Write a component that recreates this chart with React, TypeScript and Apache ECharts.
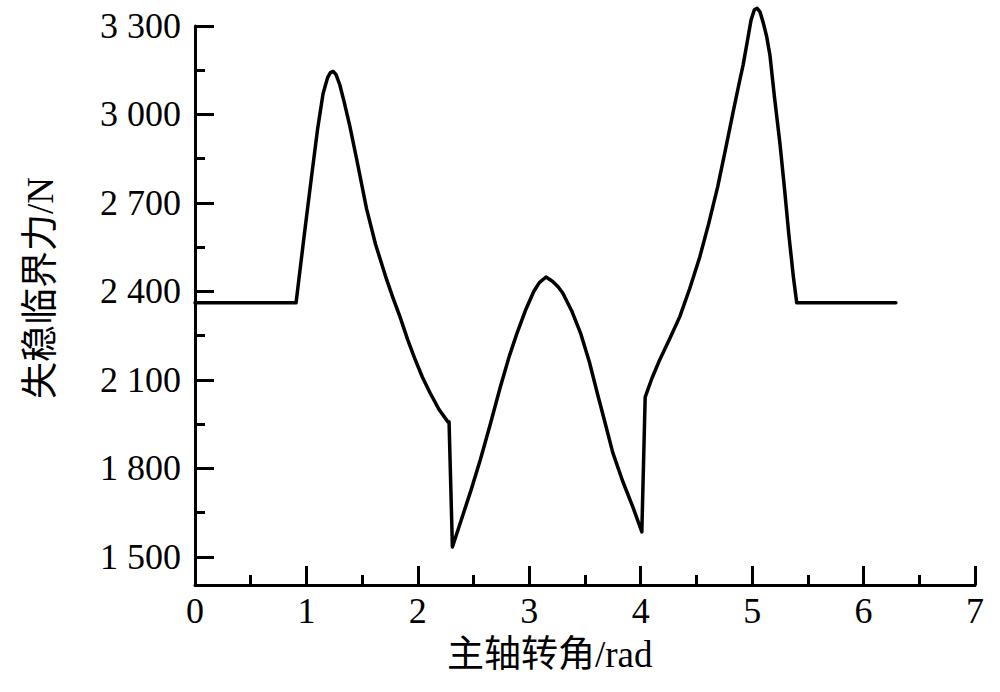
import React, { useEffect, useRef } from "react";
import * as echarts from "echarts";

const angleRad: number[] = [
  0, 0.907, 0.98, 1.05, 1.1, 1.149, 1.19, 1.215, 1.24, 1.265, 1.3, 1.34, 1.39, 1.45,
  1.54, 1.62, 1.72, 1.78, 1.84, 1.91, 1.97, 2.04, 2.11, 2.19, 2.27, 2.28, 2.31, 2.41,
  2.48, 2.56, 2.65, 2.74, 2.82, 2.89, 2.97, 3.04, 3.09, 3.15, 3.21, 3.26, 3.3, 3.38,
  3.46, 3.54, 3.61, 3.68, 3.75, 3.84, 3.93, 4.01, 4.04, 4.1, 4.17, 4.26, 4.35, 4.44,
  4.53, 4.61, 4.69, 4.76, 4.83, 4.88, 4.92, 4.96, 4.99, 5.02, 5.045, 5.07, 5.1, 5.13,
  5.16, 5.2, 5.25, 5.29, 5.33, 5.37, 5.4, 6.29,
];
const criticalForce: number[] = [
  2362, 2362, 2590, 2802, 2950, 3070, 3125, 3142, 3146, 3136, 3100, 3040, 2960, 2850,
  2680, 2560, 2440, 2375, 2314, 2235, 2175, 2110, 2056, 2000, 1958, 1958, 1534, 1649,
  1730, 1829, 1950, 2076, 2180, 2259, 2340, 2400, 2430, 2449, 2434, 2415, 2395, 2335,
  2259, 2160, 2056, 1955, 1853, 1755, 1669, 1585, 2042, 2105, 2168, 2240, 2314, 2410,
  2517, 2630, 2754, 2880, 3010, 3100, 3170, 3255, 3320, 3355, 3360, 3348, 3310, 3265,
  3200, 3060, 2900, 2750, 2590, 2450, 2362, 2362,
];
const yMajorTicks: number[] = [1500, 1800, 2100, 2400, 2700, 3000, 3300];
const yMinorTicks: number[] = [1650, 1950, 2250, 2550, 2850, 3150];
const xTitle = "主轴转角/rad";
const yTitle = "失稳临界力/N";

const FONT = "'Liberation Serif', 'Noto Sans CJK SC', serif";

export default function App() {
  const ref = useRef<HTMLDivElement>(null);
  useEffect(() => {
    if (!ref.current) return;
    const chart = echarts.init(ref.current, undefined, { renderer: "svg" });
    const yMin = 1405;
    const yMax = 3300;
    const grid = { left: 195, top: 26, width: 780, height: 559 };
    chart.setOption({
      animation: false,
      backgroundColor: "#fff",
      grid,
      xAxis: {
        type: "value",
        min: 0,
        max: 7,
        interval: 1,
        axisLine: { lineStyle: { color: "#000", width: 3 } },
        axisTick: { inside: true, length: 19, lineStyle: { color: "#000", width: 3 } },
        minorTick: { show: true, splitNumber: 2, length: 10, lineStyle: { color: "#000", width: 3 } },
        splitLine: { show: false },
        axisLabel: { color: "#000", fontSize: 36, fontFamily: FONT, margin: 8 },
      },
      yAxis: [
        {
          type: "value",
          min: yMin,
          max: yMax,
          axisLine: { show: true, lineStyle: { color: "#000", width: 3 } },
          axisTick: {
            show: true,
            inside: true,
            length: 19,
            customValues: yMajorTicks,
            lineStyle: { color: "#000", width: 3 },
          },
          splitLine: { show: false },
          axisLabel: {
            color: "#000",
            fontSize: 36,
            fontFamily: FONT,
            margin: 14,
            customValues: yMajorTicks,
            formatter: (v: number) => {
              const s = String(Math.round(v));
              return s.length > 3 ? s.slice(0, s.length - 3) + " " + s.slice(-3) : s;
            },
          },
        },
        {
          type: "value",
          min: yMin,
          max: yMax,
          position: "left",
          axisLine: { show: false },
          axisTick: {
            show: true,
            inside: true,
            length: 10,
            customValues: yMinorTicks,
            lineStyle: { color: "#000", width: 3 },
          },
          splitLine: { show: false },
          axisLabel: { show: false },
        },
      ],
      series: [
        {
          type: "line",
          data: angleRad.map((x, i) => [x, criticalForce[i]]),
          showSymbol: false,
          clip: false,
          lineStyle: { color: "#000", width: 3.5, join: "round", cap: "round" },
        },
      ],
      graphic: [
        {
          type: "text",
          left: 447,
          top: 636,
          style: { text: xTitle, fill: "#000", font: `37px ${FONT}` },
        },
        {
          type: "text",
          x: 40,
          y: 288,
          rotation: Math.PI / 2,
          style: {
            text: yTitle,
            fill: "#000",
            font: `37px ${FONT}`,
            align: "center",
            verticalAlign: "middle",
          },
        },
      ],
    });
    return () => chart.dispose();
  }, []);
  return (
    <div
      ref={ref}
      style={{ position: "fixed", left: 0, top: 0, width: 1000, height: 692 }}
    />
  );
}
